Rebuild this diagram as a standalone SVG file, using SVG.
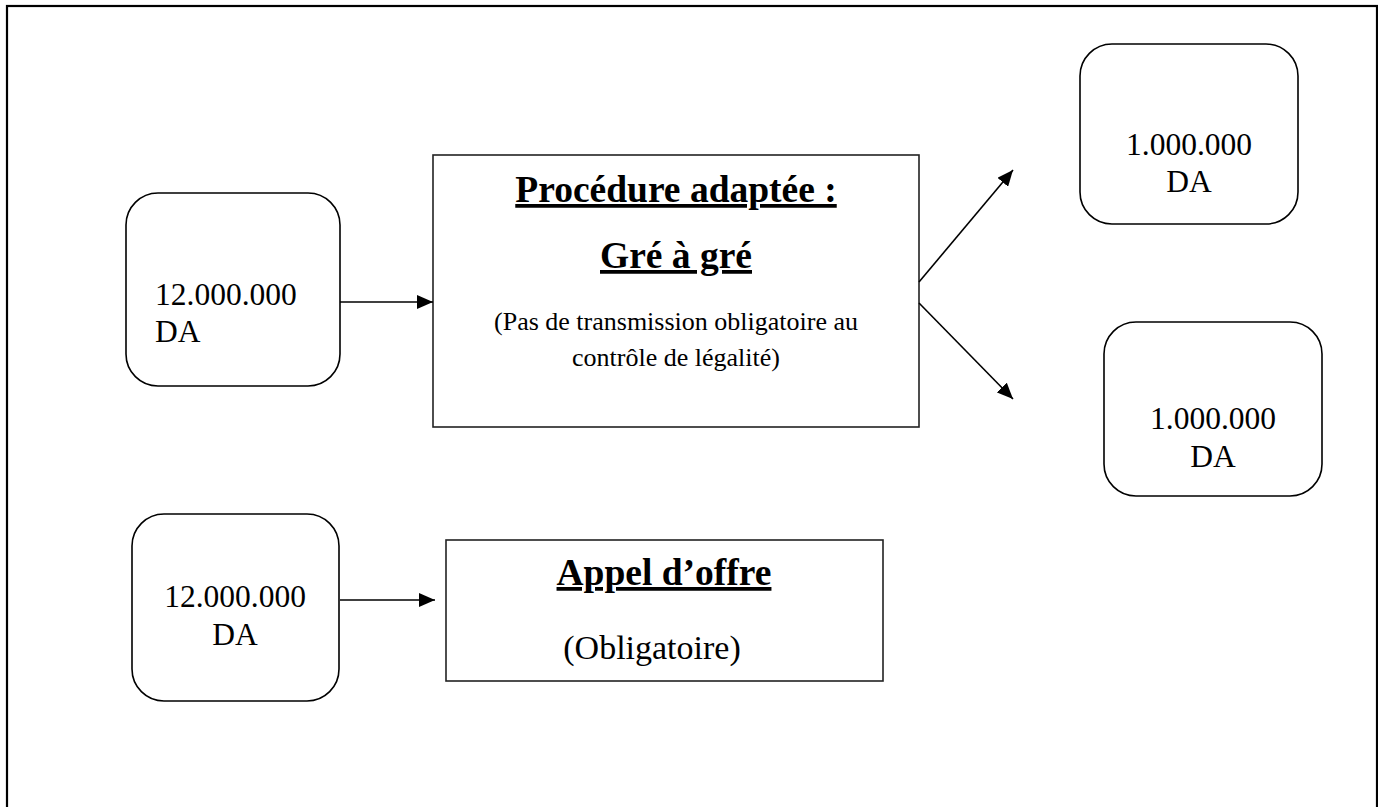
<svg xmlns="http://www.w3.org/2000/svg" width="1378" height="807" viewBox="0 0 1378 807">
<style>
.box{fill:#fff;stroke:#000;stroke-width:1.6}
.rect{fill:#fff;stroke:#222;stroke-width:1.6}
.t{font-family:"Liberation Serif","Times New Roman",serif;fill:#000}
.v{font-size:31.5px}
.h{font-size:37.5px;font-weight:bold;text-decoration:underline}
.s{font-size:26px}
.c{text-anchor:middle}
.conn line{stroke:#000;stroke-width:1.6;marker-end:url(#ah)}
</style>
<defs>
<marker id="ah" markerUnits="userSpaceOnUse" markerWidth="18" markerHeight="14" refX="16" refY="7" orient="auto">
<path d="M0,0 L16,7 L0,14 Z" fill="#000"/>
</marker>
</defs>
<rect x="0" y="0" width="1378" height="807" fill="#fff"/>
<rect id="frame" x="7" y="6" width="1370" height="820" fill="none" stroke="#000" stroke-width="2.2"/>

<g id="n1">
<rect class="box" x="126" y="193" width="214" height="193" rx="32"/>
<text class="t v" x="155" y="305">12.000.000</text>
<text class="t v" x="155" y="342">DA</text>
</g>

<g id="n2">
<rect class="rect" x="433" y="155" width="486" height="272"/>
<text class="t h c" x="676" y="202">Procédure adaptée :</text>
<text class="t h c" x="676" y="268">Gré à gré</text>
<text class="t s c" x="676" y="330">(Pas de transmission obligatoire au</text>
<text class="t s c" x="676" y="366">contrôle de légalité)</text>
</g>

<g id="n3">
<rect class="box" x="1080" y="44" width="218" height="180" rx="32"/>
<text class="t v c" x="1189" y="155">1.000.000</text>
<text class="t v c" x="1189" y="192">DA</text>
</g>

<g id="n4">
<rect class="box" x="1104" y="322" width="218" height="174" rx="32"/>
<text class="t v c" x="1213" y="429">1.000.000</text>
<text class="t v c" x="1213" y="467">DA</text>
</g>

<g id="n5">
<rect class="box" x="132" y="514" width="207" height="187" rx="32"/>
<text class="t v c" x="235" y="607">12.000.000</text>
<text class="t v c" x="235" y="645">DA</text>
</g>

<g id="n6">
<rect class="rect" x="446" y="540" width="437" height="141"/>
<text class="t h c" x="664" y="585">Appel d’offre</text>
<text class="t c" x="652" y="659" font-size="34">(Obligatoire)</text>
</g>

<g id="connectors" class="conn">
<line x1="340" y1="302" x2="433" y2="302"/>
<line x1="919" y1="282" x2="1013" y2="170"/>
<line x1="919" y1="303" x2="1013" y2="399"/>
<line x1="340" y1="600" x2="435" y2="600"/>
</g>
</svg>
